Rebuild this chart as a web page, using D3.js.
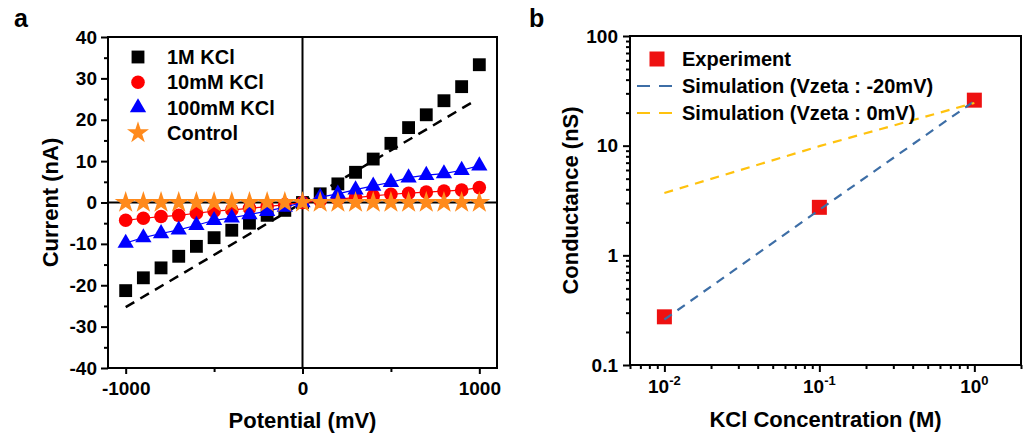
<!DOCTYPE html>
<html><head><meta charset="utf-8">
<script src="https://cdn.jsdelivr.net/npm/d3@7"></script>
<style>
html,body{margin:0;padding:0;background:#fff;}
svg{display:block;font-family:"Liberation Sans",Arial,sans-serif;font-weight:bold;}
</style></head>
<body><svg id="c" width="1024" height="436"></svg>
<script>
// ---- Panel a data ----
const voltage = [-1000,-900,-800,-700,-600,-500,-400,-300,-200,-100,0,100,200,300,400,500,600,700,800,900,1000];
const current1M = [-21.3,-18.2,-15.8,-13.0,-10.6,-8.5,-6.7,-5.0,-3.1,-1.9,0,2.1,4.5,7.3,10.5,14.3,18.1,21.2,24.6,28.0,33.3];
const current10mM = [-4.3,-3.8,-3.4,-3.1,-2.6,-2.1,-1.8,-1.4,-1.0,-0.5,0,0.4,0.8,1.2,1.6,2.0,2.25,2.5,2.75,3.0,3.6];
const current100mM = [-9.8,-8.5,-7.5,-6.6,-5.5,-4.3,-3.7,-2.9,-2.1,-1.1,0,1.3,2.1,3.1,4.0,4.9,6.0,6.6,7.0,7.8,8.9];
const currentControl = [0,0,0,0,0,0,0,0,0,0,0,0,0,0,0,0,0,0,0,0,0];
const simVoltage = [-1000, 975];
const simCurrent = [-25.3, 24.6];
const seriesLabelsA = ["1M KCl","10mM KCl","100mM KCl","Control"];
const xTicksA = [-1000, 0, 1000];
const xMinorA = [-500, 500];
const yTicksA = [-40,-30,-20,-10,0,10,20,30,40];
const yMinorA = [-35,-25,-15,-5,5,15,25,35];

// ---- Panel b data ----
const concentration = [0.01, 0.1, 1];
const gExperiment = [0.275, 2.74, 26];
const gSimNeg20 = [0.26, 2.6, 25.5];
const gSim0 = [3.7, 9.9, 24.5];
const seriesLabelsB = ["Experiment","Simulation (Vzeta : -20mV)","Simulation (Vzeta : 0mV)"];
const xTicksB = [0.01, 0.1, 1];
const xTickExpB = ["-2","-1","0"];
const yTicksB = [0.1, 1, 10, 100];
const yTickLabelsB = ["0.1","1","10","100"];

const svg = d3.select("#c");
const FONT = '"Liberation Sans",Arial,sans-serif';

// ================= Panel a =================
const A = {l:108, r:497, t:37, b:368};
const xa = d3.scaleLinear().domain([-1100,1100]).range([A.l, A.r]);
const ya = d3.scaleLinear().domain([-40,40]).range([A.b, A.t]);
const ga = svg.append("g");

function styleAxis(g){
  g.select(".domain").remove();
  g.selectAll("line").attr("stroke","#000").attr("stroke-width",2);
  g.selectAll("text").attr("fill","#000").style("font-family",FONT).style("font-weight","bold");
}
const plain = d => String(d);

// y axis
ga.append("g").attr("transform",`translate(${A.l},0)`)
  .call(d3.axisLeft(ya).tickValues(yTicksA).tickFormat(plain).tickSize(7).tickPadding(4).tickSizeOuter(0))
  .call(styleAxis).selectAll("text").style("font-size","19px");
ga.append("g").attr("transform",`translate(${A.l},0)`)
  .call(d3.axisLeft(ya).tickValues(yMinorA).tickSize(4).tickFormat("").tickSizeOuter(0))
  .call(styleAxis);
// x axis
ga.append("g").attr("transform",`translate(0,${A.b})`)
  .call(d3.axisBottom(xa).tickValues(xTicksA).tickFormat(plain).tickSize(6).tickPadding(8).tickSizeOuter(0))
  .call(styleAxis).selectAll("text").style("font-size","19px");
ga.append("g").attr("transform",`translate(0,${A.b})`)
  .call(d3.axisBottom(xa).tickValues(xMinorA).tickSize(4).tickFormat("").tickSizeOuter(0))
  .call(styleAxis);

// zero lines
ga.append("line").attr("x1",xa(0)).attr("x2",xa(0)).attr("y1",A.t).attr("y2",A.b).attr("stroke","#000").attr("stroke-width",2);
ga.append("line").attr("x1",A.l).attr("x2",A.r).attr("y1",ya(0)).attr("y2",ya(0)).attr("stroke","#000").attr("stroke-width",2);

// frame
ga.append("rect").attr("x",A.l).attr("y",A.t).attr("width",A.r-A.l).attr("height",A.b-A.t)
  .attr("fill","none").attr("stroke","#000").attr("stroke-width",2);

// simulation dashed line
const lineA = d3.line().x(d=>xa(d[0])).y(d=>ya(d[1]));
ga.append("path").datum(d3.zip(simVoltage, simCurrent)).attr("d",lineA)
  .attr("fill","none").attr("stroke","#000").attr("stroke-width",2.5).attr("stroke-dasharray","10,7");

const seriesA = [
  {vals:current1M, color:"#000000", sym:d3.symbolSquare, size:165, line:false},
  {vals:current10mM, color:"#ff0000", sym:d3.symbolCircle, size:145, line:true},
  {vals:current100mM, color:"#0000ff", sym:d3.symbolTriangle, size:115, line:true},
  {vals:currentControl, color:"#ff8a1c", sym:d3.symbolStar, size:150, line:false}
];
seriesA.forEach(s=>{
  const pts = d3.zip(voltage, s.vals);
  if(s.line){
    ga.append("path").datum(pts).attr("d",lineA).attr("fill","none").attr("stroke",s.color).attr("stroke-width",1.2);
  }
  ga.append("g").selectAll("path").data(pts).join("path")
    .attr("transform",d=>`translate(${xa(d[0])},${ya(d[1])})`)
    .attr("d",d3.symbol().type(s.sym).size(s.size)).attr("fill",s.color);
});

// legend a
const legA = ga.append("g");
seriesA.forEach((s,i)=>{
  const yy = 57 + i*25.3;
  legA.append("path").attr("transform",`translate(138,${yy})`)
    .attr("d",d3.symbol().type(s.sym).size(s.size)).attr("fill",s.color);
  legA.append("text").attr("x",167).attr("y",yy+7).style("font-size","20px").attr("fill","#000").text(seriesLabelsA[i]);
});

// titles a
ga.append("text").attr("x",(A.l+A.r)/2).attr("y",428).attr("text-anchor","middle").style("font-size","22px").text("Potential (mV)");
ga.append("text").attr("transform",`translate(58,${(A.t+A.b)/2}) rotate(-90)`).attr("text-anchor","middle").style("font-size","22px").text("Current (nA)");
ga.append("text").attr("x",14).attr("y",27).style("font-size","25px").text("a");

// ================= Panel b =================
const B = {l:630, r:1021, t:36, b:365};
const xb = d3.scaleLog().domain([0.006, 2]).range([B.l, B.r]);
const yb = d3.scaleLog().domain([0.1, 100]).range([B.b, B.t]);
const gb = svg.append("g");

const yMinorB = [];
yTicksB.slice(0,-1).forEach(d=>{ for(let k=2;k<=9;k++) yMinorB.push(d*k); });
const xMinorB = [];
[0.001,0.01,0.1,1].forEach(d=>{ for(let k=2;k<=9;k++){ const v=d*k; if(v>=0.006 && v<=2) xMinorB.push(v);} });

gb.append("g").attr("transform",`translate(${B.l},0)`)
  .call(d3.axisLeft(yb).tickValues(yTicksB).tickSize(7).tickPadding(5).tickFormat((d,i)=>yTickLabelsB[i]).tickSizeOuter(0))
  .call(styleAxis).selectAll("text").style("font-size","19px");
gb.append("g").attr("transform",`translate(${B.l},0)`)
  .call(d3.axisLeft(yb).tickValues(yMinorB).tickSize(4).tickFormat("").tickSizeOuter(0))
  .call(styleAxis);
gb.append("g").attr("transform",`translate(0,${B.b})`)
  .call(d3.axisBottom(xb).tickValues(xTicksB).tickSize(7).tickFormat("").tickSizeOuter(0))
  .call(styleAxis);
gb.append("g").attr("transform",`translate(0,${B.b})`)
  .call(d3.axisBottom(xb).tickValues(xMinorB).tickSize(4).tickFormat("").tickSizeOuter(0))
  .call(styleAxis);
// x tick labels with superscripts
xTicksB.forEach((d,i)=>{
  const t = gb.append("text").attr("x",xb(d)).attr("y",393).attr("text-anchor","middle").style("font-size","19px");
  t.append("tspan").text("10");
  t.append("tspan").attr("dy",-8).style("font-size","13px").text(xTickExpB[i]);
});

gb.append("rect").attr("x",B.l).attr("y",B.t).attr("width",B.r-B.l).attr("height",B.b-B.t)
  .attr("fill","none").attr("stroke","#000").attr("stroke-width",2);

const lineB = d3.line().x(d=>xb(d[0])).y(d=>yb(d[1]));
gb.append("g").selectAll("path").data(d3.zip(concentration, gExperiment)).join("path")
  .attr("transform",d=>`translate(${xb(d[0])},${yb(d[1])})`)
  .attr("d",d3.symbol().type(d3.symbolSquare).size(225)).attr("fill","#ee1111");
gb.append("path").datum(d3.zip(concentration, gSimNeg20)).attr("d",lineB)
  .attr("fill","none").attr("stroke","#3d6ea6").attr("stroke-width",2.2).attr("stroke-dasharray","9,7");
gb.append("path").datum(d3.zip(concentration, gSim0)).attr("d",lineB)
  .attr("fill","none").attr("stroke","#ffc20e").attr("stroke-width",2.2).attr("stroke-dasharray","9,7");

// legend b
const legB = gb.append("g");
legB.append("path").attr("transform","translate(657,59)").attr("d",d3.symbol().type(d3.symbolSquare).size(225)).attr("fill","#ee1111");
legB.append("text").attr("x",682).attr("y",66).style("font-size","20px").text(seriesLabelsB[0]);
[["#3d6ea6",86],["#ffc20e",113]].forEach((c,i)=>{
  legB.append("line").attr("x1",637).attr("x2",672).attr("y1",c[1]).attr("y2",c[1])
    .attr("stroke",c[0]).attr("stroke-width",2.2).attr("stroke-dasharray","13,9");
  legB.append("text").attr("x",682).attr("y",c[1]+7).style("font-size","20px").text(seriesLabelsB[i+1]);
});

gb.append("text").attr("x",(B.l+B.r)/2).attr("y",427).attr("text-anchor","middle").style("font-size","22px").text("KCl Concentration (M)");
gb.append("text").attr("transform",`translate(578,${(B.t+B.b)/2}) rotate(-90)`).attr("text-anchor","middle").style("font-size","22px").text("Conductance (nS)");
gb.append("text").attr("x",529).attr("y",27).style("font-size","25px").text("b");
</script></body></html>
